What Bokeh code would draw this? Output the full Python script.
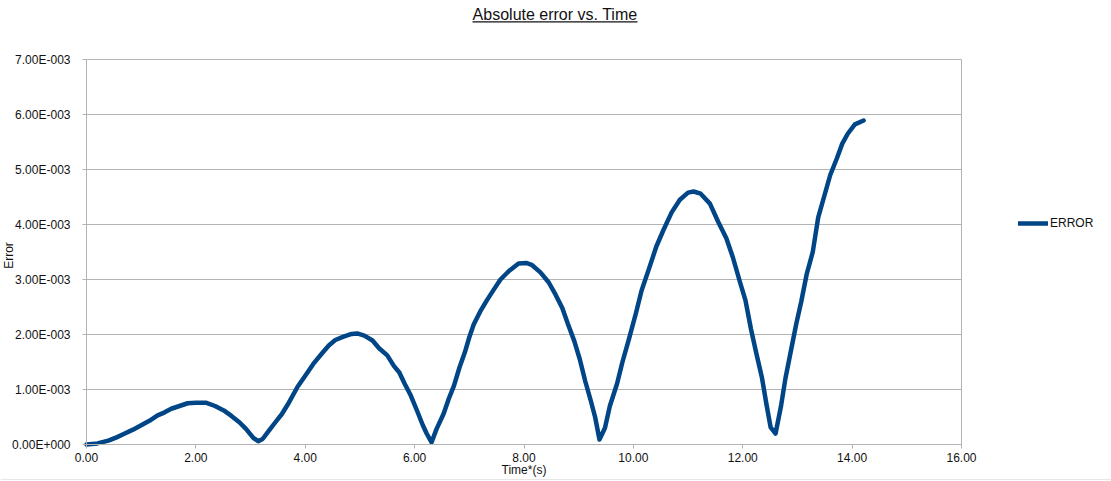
from bokeh.plotting import figure
from bokeh.embed import file_html
from bokeh.resources import INLINE
from bokeh.models import Range1d, FixedTicker, Legend, LegendItem, Label, BoxAnnotation
import math

# ---- data ----
time_s = [0.00, 0.20, 0.40, 0.55, 0.70, 0.85, 1.00, 1.15, 1.30, 1.42, 1.55, 1.70, 1.85, 2.00,
          2.18, 2.35, 2.51, 2.65, 2.80, 2.92, 3.05, 3.14, 3.22, 3.35, 3.45, 3.57, 3.70, 3.86,
          4.00, 4.15, 4.30, 4.43, 4.55, 4.70, 4.85, 4.95, 5.08, 5.23, 5.35, 5.50, 5.62, 5.72,
          5.82, 5.93, 6.05, 6.15, 6.22, 6.31, 6.40, 6.53, 6.62, 6.72, 6.82, 6.92, 7.00, 7.08,
          7.20, 7.32, 7.45, 7.57, 7.72, 7.90, 8.05, 8.15, 8.30, 8.45, 8.58, 8.70, 8.80, 8.92,
          9.02, 9.12, 9.22, 9.30, 9.38, 9.48, 9.57, 9.70, 9.80, 9.92, 10.05, 10.15, 10.28,
          10.42, 10.55, 10.70, 10.85, 11.00, 11.10, 11.23, 11.40, 11.55, 11.70, 11.82, 11.95,
          12.05, 12.15, 12.25, 12.35, 12.43, 12.51, 12.60, 12.70, 12.78, 12.88, 12.98, 13.07,
          13.17, 13.28, 13.38, 13.50, 13.60, 13.72, 13.82, 13.92, 14.05, 14.21]
error_e3 = [0.00, 0.02, 0.07, 0.13, 0.20, 0.27, 0.35, 0.43, 0.53, 0.58, 0.65, 0.70, 0.75, 0.76,
            0.76, 0.70, 0.62, 0.52, 0.40, 0.28, 0.12, 0.06, 0.10, 0.27, 0.40, 0.55, 0.76, 1.05,
            1.25, 1.47, 1.65, 1.80, 1.90, 1.96, 2.01, 2.02, 1.98, 1.89, 1.75, 1.62, 1.43, 1.31,
            1.10, 0.89, 0.60, 0.35, 0.20, 0.04, 0.28, 0.56, 0.82, 1.07, 1.40, 1.68, 1.95, 2.18,
            2.42, 2.62, 2.82, 3.00, 3.15, 3.29, 3.30, 3.26, 3.13, 2.95, 2.72, 2.48, 2.20, 1.88,
            1.55, 1.15, 0.80, 0.50, 0.09, 0.30, 0.70, 1.10, 1.50, 1.92, 2.40, 2.80, 3.18,
            3.60, 3.90, 4.22, 4.45, 4.58, 4.60, 4.56, 4.38, 4.05, 3.75, 3.40, 2.95,
            2.62, 2.10, 1.65, 1.22, 0.75, 0.31, 0.20, 0.70, 1.20, 1.70, 2.20, 2.60,
            3.10, 3.50, 4.13, 4.55, 4.90, 5.20, 5.47, 5.65, 5.82, 5.89]
error = [v * 1e-3 for v in error_e3]

x_ticks = [0, 2, 4, 6, 8, 10, 12, 14, 16]
x_tick_labels = ["0.00", "2.00", "4.00", "6.00", "8.00", "10.00", "12.00", "14.00", "16.00"]
y_ticks = [0.0, 0.001, 0.002, 0.003, 0.004, 0.005, 0.006, 0.007]
y_tick_labels = ["0.00E+000", "1.00E-003", "2.00E-003", "3.00E-003",
                 "4.00E-003", "5.00E-003", "6.00E-003", "7.00E-003"]

title_text = "Absolute error vs. Time"
x_label = "Time*(s)"
y_label = "Error"
series_name = "ERROR"

FONT = "Liberation Sans"
GRID = "#b3b3b3"
LINE = "#004586"
TXT = "#111111"

# canvas and plot-area geometry (px)
W, H = 1111, 480
PA_L, PA_T, PA_R, PA_B = 86, 59, 961, 444
x0, x1 = x_ticks[0], x_ticks[-1]
y0, y1 = y_ticks[0], y_ticks[-1]
sx = (x1 - x0) / (PA_R - PA_L)
sy = (y1 - y0) / (PA_B - PA_T)
# the Bokeh frame covers the whole canvas; axes sit at fixed locations inside it
x_range = Range1d(x0 - PA_L * sx, x1 + (W - PA_R) * sx)
y_range = Range1d(y0 - (H - PA_B) * sy, y1 + PA_T * sy)

p = figure(width=W, height=H, output_backend="svg", toolbar_location=None,
           x_range=x_range, y_range=y_range,
           min_border_left=0, min_border_right=0, min_border_top=0, min_border_bottom=0)
p.background_fill_color = "white"
p.border_fill_color = "white"
p.outline_line_color = None
p.xgrid.grid_line_color = None
p.ygrid.grid_line_color = None

# axes
p.xaxis.fixed_location = y0
p.yaxis.fixed_location = x0
p.xaxis.ticker = FixedTicker(ticks=x_ticks)
p.xaxis.major_label_overrides = {t: l for t, l in zip(x_ticks, x_tick_labels)}
p.xaxis.bounds = (x0, x1)
p.yaxis.ticker = FixedTicker(ticks=y_ticks)
p.yaxis.major_label_overrides = {t: l for t, l in zip(y_ticks, y_tick_labels)}
p.yaxis.bounds = (y0, y1)
for ax in (p.xaxis, p.yaxis):
    ax.axis_line_color = GRID
    ax.major_tick_line_color = GRID
    ax.major_tick_out = 4
    ax.major_tick_in = 0
    ax.minor_tick_line_color = None
    ax.major_label_text_font = FONT
    ax.major_label_text_font_size = "12px"
    ax.major_label_text_color = TXT
p.xaxis.major_label_standoff = 4
p.yaxis.major_label_standoff = 12

# horizontal grid lines and right border of the plot area
n = len(y_ticks)
p.segment(x0=[x0] * n, y0=y_ticks, x1=[x1] * n, y1=y_ticks, line_color=GRID, line_width=1)
p.segment(x0=[x1], y0=[y0], x1=[x1], y1=[y1], line_color=GRID, line_width=1)

r = p.line(time_s, error, line_color=LINE, line_width=4.5, line_join="round", line_cap="round")

# legend (screen units from the canvas bottom-left)
legend = Legend(items=[LegendItem(label=series_name, renderers=[r])],
                location=(1018, H - 233), padding=0, margin=0, spacing=0,
                glyph_width=30, glyph_height=20, label_height=20, label_standoff=2,
                border_line_color=None, background_fill_alpha=0,
                label_text_font=FONT, label_text_font_size="12px", label_text_color=TXT)
p.add_layout(legend, "center")

# underlined title
p.add_layout(Label(x=554.5, y=H - 14, x_units="screen", y_units="screen", text=title_text,
                   text_align="center", text_baseline="middle", text_font=FONT,
                   text_font_size="16px", text_color=TXT))
p.add_layout(BoxAnnotation(left=472, right=637, bottom=H - 22, top=H - 20.8,
                           left_units="screen", right_units="screen",
                           bottom_units="screen", top_units="screen",
                           fill_color=TXT, fill_alpha=1, line_color=None))

# outer chart border, visible at the bottom edge
p.add_layout(BoxAnnotation(left=0, right=W, bottom=0, top=1,
                           left_units="screen", right_units="screen",
                           bottom_units="screen", top_units="screen",
                           fill_color="#d0d0d0", fill_alpha=1, line_color=None))

# axis titles
p.add_layout(Label(x=(PA_L + PA_R) / 2, y=H - 469, x_units="screen", y_units="screen",
                   text=x_label, text_align="center", text_baseline="middle",
                   text_font=FONT, text_font_size="12px", text_color=TXT))
p.add_layout(Label(x=8, y=H - 255, x_units="screen", y_units="screen", text=y_label,
                   angle=math.pi / 2, text_align="center", text_baseline="middle",
                   text_font=FONT, text_font_size="12px", text_color=TXT))

open("out.html", "w").write(file_html(p, INLINE))
